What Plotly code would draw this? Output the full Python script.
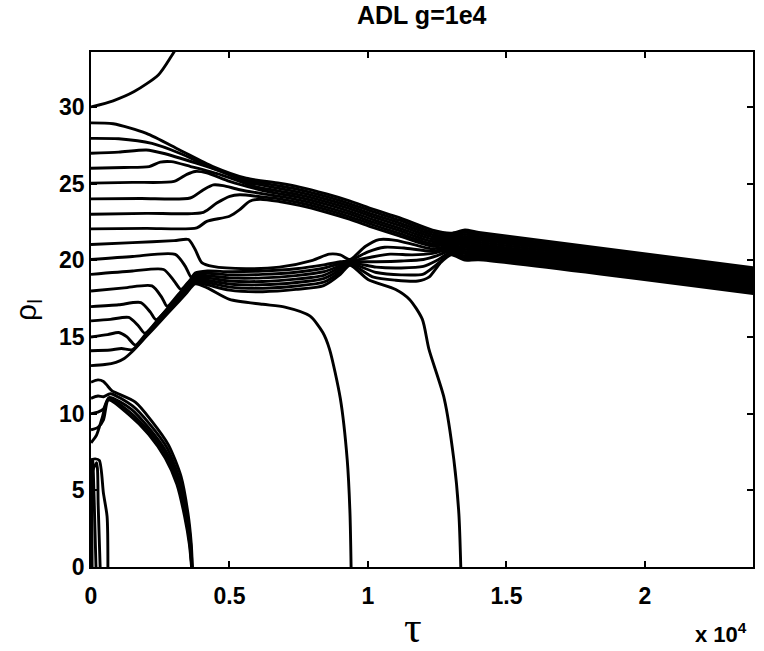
import plotly.graph_objects as go

# Trajectories rho_l(tau); tau in units of 1e4. One pair of lists per starting rho_l.
tau_r30 = [0, 0.08, 0.156, 0.244, 0.29, 0.32]
rho_r30 = [30.0, 30.4, 31.0, 32.1, 33.3, 34.2]

tau_r29 = [0, 0.08, 0.20, 0.32, 0.44, 0.56, 0.68, 0.753, 0.85, 0.933, 1.02, 1.113, 1.233, 1.30, 1.35, 1.40, 2.40]
rho_r29 = [28.96, 28.9, 28.27, 27.19, 26.11, 25.35, 25.02, 24.77, 24.32, 23.87, 23.32, 22.78, 21.97, 21.77, 21.97, 21.82, 19.49]

tau_r28 = [0, 0.10, 0.22, 0.32, 0.44, 0.56, 0.68, 0.753, 0.85, 0.933, 1.02, 1.113, 1.233, 1.30, 1.35, 1.40, 2.40]
rho_r28 = [27.95, 27.92, 27.62, 26.98, 26.0, 25.22, 24.85, 24.60, 24.15, 23.70, 23.15, 22.61, 21.82, 21.67, 21.83, 21.69, 19.37]

tau_r27 = [0, 0.10, 0.20, 0.26, 0.38, 0.47, 0.56, 0.68, 0.753, 0.85, 0.933, 1.02, 1.113, 1.233, 1.30, 1.35, 1.40, 2.40]
rho_r27 = [26.98, 27.05, 27.19, 26.98, 26.33, 25.79, 25.12, 24.68, 24.43, 23.98, 23.53, 22.98, 22.44, 21.67, 21.57, 21.69, 21.56, 19.25]

tau_r26 = [0, 0.12, 0.21, 0.25, 0.29, 0.36, 0.47, 0.585, 0.68, 0.753, 0.85, 0.933, 1.02, 1.113, 1.233, 1.30, 1.35, 1.40, 2.40]
rho_r26 = [26.0, 26.05, 26.11, 26.4, 26.43, 26.11, 25.57, 24.85, 24.51, 24.26, 23.81, 23.36, 22.81, 22.27, 21.52, 21.47, 21.55, 21.44, 19.13]

tau_r25 = [0, 0.15, 0.30, 0.346, 0.376, 0.418, 0.50, 0.61, 0.68, 0.753, 0.85, 0.933, 1.02, 1.113, 1.233, 1.30, 1.35, 1.40, 2.40]
rho_r25 = [25.03, 25.08, 25.14, 25.6, 25.79, 25.7, 25.14, 24.6, 24.34, 24.09, 23.64, 23.19, 22.64, 22.10, 21.37, 21.37, 21.41, 21.31, 19.01]

tau_r24 = [0, 0.18, 0.358, 0.406, 0.442, 0.477, 0.537, 0.633, 0.68, 0.753, 0.85, 0.933, 1.02, 1.113, 1.233, 1.30, 1.35, 1.40, 2.40]
rho_r24 = [24.0, 24.03, 24.06, 24.6, 24.92, 24.87, 24.6, 24.3, 24.17, 23.92, 23.47, 23.02, 22.47, 21.93, 21.22, 21.27, 21.27, 21.18, 18.89]

tau_r23 = [0, 0.20, 0.406, 0.454, 0.501, 0.537, 0.61, 0.68, 0.753, 0.85, 0.933, 1.02, 1.113, 1.233, 1.30, 1.35, 1.40, 2.40]
rho_r23 = [23.0, 23.06, 23.13, 23.73, 24.17, 24.27, 24.15, 24.0, 23.75, 23.30, 22.85, 22.30, 21.76, 21.07, 21.17, 21.13, 21.05, 18.77]

tau_r22 = [0, 0.20, 0.382, 0.418, 0.50, 0.537, 0.573, 0.61, 0.68, 0.753, 0.85, 0.933, 1.02, 1.113, 1.233, 1.30, 1.35, 1.40, 2.40]
rho_r22 = [22.05, 22.08, 22.11, 22.54, 22.87, 23.3, 23.85, 23.98, 23.83, 23.58, 23.13, 22.68, 22.13, 21.59, 20.92, 21.07, 20.99, 20.92, 18.65]

tau_r21 = [0, 0.15, 0.30, 0.352, 0.376, 0.40, 0.44, 0.56, 0.68, 0.80, 0.86, 0.90, 0.935, 0.99, 1.04, 1.10, 1.17, 1.233, 1.30, 1.35, 1.40, 2.40]
rho_r21 = [21.03, 21.15, 21.28, 21.35, 20.7, 19.85, 19.6, 19.45, 19.55, 20.0, 20.4, 20.35, 20.05, 20.9, 21.35, 21.3, 21.0, 20.75, 20.95, 20.85, 20.80, 18.53]

tau_r20 = [0, 0.15, 0.304, 0.34, 0.362, 0.376, 0.42, 0.50, 0.62, 0.74, 0.84, 0.90, 0.935, 1.0, 1.06, 1.13, 1.233, 1.30, 1.35, 1.40, 2.40]
rho_r20 = [20.05, 20.25, 20.38, 19.62, 18.89, 19.16, 19.30, 19.25, 19.30, 19.45, 19.70, 19.90, 19.98, 20.55, 20.85, 20.8, 20.6, 20.85, 20.71, 20.67, 18.41]

tau_r19 = [0, 0.15, 0.262, 0.30, 0.325, 0.35, 0.376, 0.42, 0.50, 0.62, 0.74, 0.84, 0.90, 0.935, 1.01, 1.08, 1.16, 1.233, 1.30, 1.35, 1.40, 2.40]
rho_r19 = [19.08, 19.3, 19.4, 18.65, 18.1, 18.55, 19.06, 19.15, 19.05, 19.08, 19.22, 19.48, 19.78, 19.93, 20.2, 20.4, 20.35, 20.45, 20.75, 20.57, 20.54, 18.29]

tau_r18 = [0, 0.12, 0.22, 0.256, 0.275, 0.32, 0.376, 0.42, 0.50, 0.62, 0.74, 0.84, 0.90, 0.935, 1.03, 1.12, 1.20, 1.25, 1.30, 1.35, 1.40, 2.40]
rho_r18 = [18.0, 18.2, 18.33, 17.57, 17.0, 17.87, 18.96, 19.0, 18.85, 18.85, 19.0, 19.25, 19.65, 19.88, 19.9, 19.95, 20.05, 20.3, 20.65, 20.43, 20.41, 18.17]

tau_r17 = [0, 0.10, 0.18, 0.215, 0.235, 0.30, 0.34, 0.376, 0.42, 0.50, 0.62, 0.74, 0.84, 0.90, 0.935, 1.03, 1.12, 1.20, 1.25, 1.30, 1.35, 1.40, 2.40]
rho_r17 = [16.98, 17.1, 17.24, 16.6, 16.12, 17.38, 18.16, 18.86, 18.85, 18.65, 18.62, 18.77, 19.02, 19.52, 19.83, 19.55, 19.5, 19.6, 20.0, 20.55, 20.29, 20.28, 18.05]

tau_r16 = [0, 0.07, 0.136, 0.17, 0.195, 0.25, 0.30, 0.34, 0.376, 0.42, 0.50, 0.62, 0.74, 0.84, 0.90, 0.935, 1.03, 1.12, 1.20, 1.24, 1.28, 1.30, 1.35, 1.40, 2.40]
rho_r16 = [16.05, 16.15, 16.27, 15.75, 15.24, 16.31, 17.28, 18.06, 18.76, 18.70, 18.45, 18.40, 18.55, 18.80, 19.38, 19.78, 19.2, 19.05, 19.1, 19.6, 20.2, 20.45, 20.15, 20.16, 17.93]

tau_r15 = [0, 0.06, 0.10, 0.13, 0.16, 0.20, 0.25, 0.30, 0.34, 0.376, 0.42, 0.50, 0.62, 0.74, 0.84, 0.90, 0.935, 1.02, 1.10, 1.18, 1.22, 1.26, 1.30, 1.35, 1.40, 2.40]
rho_r15 = [15.0, 15.15, 15.29, 15.0, 14.47, 15.24, 16.21, 17.18, 17.96, 18.66, 18.55, 18.25, 18.17, 18.32, 18.57, 19.23, 19.73, 18.9, 18.7, 18.65, 18.9, 19.8, 20.35, 20.01, 20.03, 17.81]

tau_r14 = [0, 0.07, 0.11, 0.15, 0.20, 0.25, 0.30, 0.34, 0.376, 0.42, 0.50, 0.62, 0.74, 0.84, 0.90, 0.935, 1.0, 1.10, 1.15, 1.196, 1.22, 1.275, 1.31, 1.328, 1.335]
rho_r14 = [14.1, 14.15, 14.25, 14.17, 15.14, 16.11, 17.08, 17.86, 18.56, 18.40, 18.05, 17.95, 18.10, 18.35, 19.08, 19.68, 18.75, 18.1, 17.45, 16.16, 14.2, 11.0, 7.0, 3.5, 0.0]

tau_r13 = [0, 0.05, 0.09, 0.12, 0.15, 0.20, 0.25, 0.30, 0.34, 0.376, 0.42, 0.50, 0.62, 0.70, 0.79, 0.837, 0.861, 0.90, 0.925, 0.935, 0.939]
rho_r13 = [13.13, 13.2, 13.35, 13.6, 14.07, 15.04, 16.01, 16.98, 17.76, 18.46, 18.2, 17.45, 17.13, 16.95, 16.37, 15.29, 14.21, 11.0, 7.0, 3.5, 0.0]

tau_r12 = [0, 0.025, 0.045, 0.06, 0.075, 0.16, 0.22, 0.28, 0.325, 0.35, 0.362, 0.366]
rho_r12 = [12.05, 12.2, 12.1, 11.8, 11.5, 10.75, 9.5, 7.95, 5.9, 3.5, 1.5, 0.0]

tau_r11 = [0, 0.025, 0.045, 0.07, 0.15, 0.215, 0.275, 0.32, 0.347, 0.36, 0.365]
rho_r11 = [11.0, 11.15, 11.1, 11.3, 10.5, 9.25, 7.75, 5.7, 3.5, 1.5, 0.0]

tau_r10 = [0, 0.025, 0.045, 0.065, 0.145, 0.212, 0.272, 0.316, 0.344, 0.358, 0.364]
rho_r10 = [10.0, 10.1, 10.3, 11.05, 10.3, 9.0, 7.5, 5.6, 3.4, 1.5, 0.0]

tau_r9 = [0, 0.025, 0.045, 0.064, 0.14, 0.21, 0.27, 0.313, 0.341, 0.357, 0.364]
rho_r9 = [8.95, 9.1, 9.6, 10.95, 10.1, 8.8, 7.3, 5.5, 3.35, 1.5, 0.0]

tau_r8 = [0, 0.02, 0.04, 0.062, 0.136, 0.208, 0.268, 0.31, 0.338, 0.355, 0.363]
rho_r8 = [8.1, 8.6, 9.7, 10.9, 9.95, 8.65, 7.1, 5.4, 3.3, 1.5, 0.0]

tau_r7 = [0, 0.015, 0.03, 0.045, 0.058, 0.061]
rho_r7 = [7.0, 7.05, 6.95, 4.8, 3.3, 0.0]

tau_r6 = [0, 0.02, 0.026, 0.033]
rho_r6 = [6.0, 6.8, 4.0, 0.0]

tau_r5 = [0, 0.006, 0.012, 0.018]
rho_r5 = [5.0, 7.0, 4.0, 0.0]

tau_r4 = [0, 0.002, 0.003, 0.004]
rho_r4 = [4.0, 6.9, 3.5, 0.0]

trajectories = [
    (tau_r30, rho_r30), (tau_r29, rho_r29), (tau_r28, rho_r28), (tau_r27, rho_r27),
    (tau_r26, rho_r26), (tau_r25, rho_r25), (tau_r24, rho_r24), (tau_r23, rho_r23),
    (tau_r22, rho_r22), (tau_r21, rho_r21), (tau_r20, rho_r20), (tau_r19, rho_r19),
    (tau_r18, rho_r18), (tau_r17, rho_r17), (tau_r16, rho_r16), (tau_r15, rho_r15),
    (tau_r14, rho_r14), (tau_r13, rho_r13), (tau_r12, rho_r12), (tau_r11, rho_r11),
    (tau_r10, rho_r10), (tau_r9, rho_r9), (tau_r8, rho_r8), (tau_r7, rho_r7),
    (tau_r6, rho_r6), (tau_r5, rho_r5), (tau_r4, rho_r4),
]

x_ticks = [0, 0.5, 1, 1.5, 2]
x_tick_text = ["0", "0.5", "1", "1.5", "2"]
y_ticks = [0, 5, 10, 15, 20, 25, 30]

fig = go.Figure()
for tau, rho in trajectories:
    fig.add_trace(go.Scatter(
        x=tau, y=rho, mode="lines",
        line=dict(color="black", width=2.9, shape="spline", smoothing=0.7),
        showlegend=False, hoverinfo="skip", cliponaxis=True,
    ))

tick_font = dict(family="Liberation Sans", size=23, color="black", weight="bold")
axis_common = dict(
    showline=True, linecolor="black", linewidth=1.6, mirror="ticks",
    ticks="inside", ticklen=6, tickwidth=1.5, tickcolor="black",
    showgrid=False, zeroline=False, tickfont=tick_font,
)

fig.update_layout(
    width=764, height=651,
    margin=dict(l=91, r=9, t=52, b=84),
    paper_bgcolor="white", plot_bgcolor="white",
    xaxis=dict(range=[0, 2.39], tickvals=x_ticks, ticktext=x_tick_text,
               ticklabelstandoff=8, **axis_common),
    yaxis=dict(range=[0, 33.58], tickvals=y_ticks, **axis_common),
    annotations=[
        dict(text="ADL g=1e4", xref="paper", yref="paper", x=0.5, y=1.072,
             showarrow=False, xanchor="center", yanchor="middle",
             font=dict(family="Liberation Sans", size=25, color="black", weight="bold")),
        dict(text="τ", xref="paper", yref="paper", x=0.486, y=-0.118,
             showarrow=False, xanchor="center", yanchor="middle",
             font=dict(family="Liberation Serif", size=44, color="black")),
        dict(text="x 10<sup>4</sup>", xref="paper", yref="paper", x=0.952, y=-0.128,
             showarrow=False, xanchor="center", yanchor="middle",
             font=dict(family="Liberation Sans", size=22, color="black", weight="bold")),
        dict(text="ρ<sub>l</sub>", xref="paper", yref="paper", x=-0.096, y=0.5,
             showarrow=False, xanchor="center", yanchor="middle", textangle=-90,
             font=dict(family="Liberation Sans", size=30, color="black")),
    ],
)

fig.write_html("out.html")
